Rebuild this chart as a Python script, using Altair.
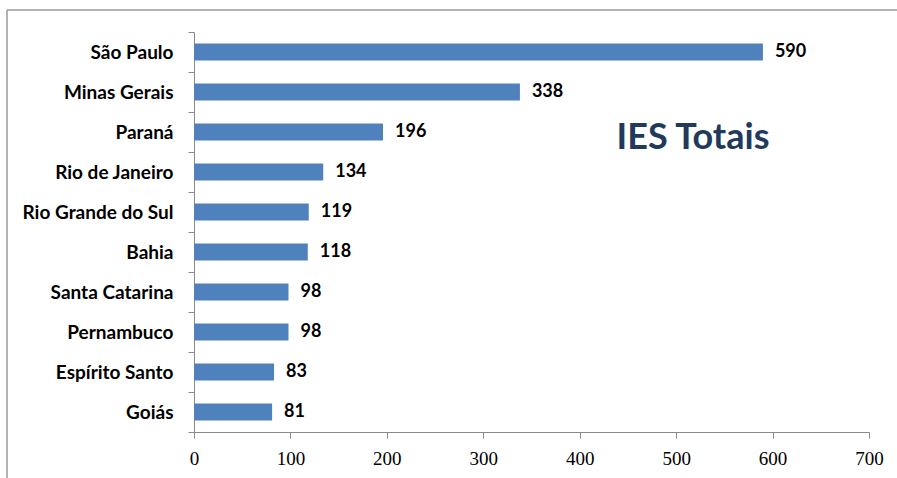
import altair as alt
import pandas as pd

states = ["São Paulo", "Minas Gerais", "Paraná", "Rio de Janeiro", "Rio Grande do Sul",
          "Bahia", "Santa Catarina", "Pernambuco", "Espírito Santo", "Goiás"]
values = [590, 338, 196, 134, 119, 118, 98, 98, 83, 81]
x_ticks = [0, 100, 200, 300, 400, 500, 600, 700]

df = pd.DataFrame({"estado": states, "ies": values})

AXIS_GRAY = "#8a8a8a"
FRAME_GRAY = "#9a9a9a"

y_enc = alt.Y("estado:N", sort=states,
              scale=alt.Scale(paddingInner=0, paddingOuter=0),
              axis=alt.Axis(title=None, tickBand="extent", domainColor=AXIS_GRAY,
                            tickColor=AXIS_GRAY, tickSize=6, labelPadding=15,
                            labelFont="Lato", labelFontWeight="bold", labelFontSize=19,
                            labelColor="#000000", grid=False))
x_enc = alt.X("ies:Q",
              scale=alt.Scale(domain=[0, 700], nice=False, zero=True),
              axis=alt.Axis(title=None, values=x_ticks, domainColor=AXIS_GRAY,
                            tickColor=AXIS_GRAY, tickSize=6, labelPadding=11,
                            labelFont="Liberation Serif", labelFontSize=19,
                            labelColor="#000000", grid=False, labelFlush=False))

bars = alt.Chart(df).mark_bar(color="#4f81bd", size=17).encode(x=x_enc, y=y_enc)

labels = alt.Chart(df).mark_text(align="left", baseline="middle", dx=12,
                                 font="Lato", fontWeight="bold", fontSize=18,
                                 color="#000000").encode(
    x="ies:Q", y=alt.Y("estado:N", sort=states), text="ies:Q")

title = alt.Chart(alt.Data(values=[{"t": "IES Totais"}])).mark_text(
    align="center", baseline="middle", font="Lato", fontWeight="bold",
    fontSize=36, color="#1f3a5c").encode(
    x=alt.value(499), y=alt.value(106), text="t:N")

one = alt.Data(values=[{"a": 1}])
frame_top = alt.Chart(one).mark_rule(color=FRAME_GRAY, strokeWidth=1.5).encode(
    x=alt.value(-187), x2=alt.value(703), y=alt.value(-22))
frame_left = alt.Chart(one).mark_rule(color=FRAME_GRAY, strokeWidth=1.5).encode(
    x=alt.value(-187), y=alt.value(-22), y2=alt.value(446))

chart = alt.layer(frame_top, frame_left, bars, labels, title).properties(
    width=675, height=400,
    autosize=alt.AutoSizeParams(type="none"),
    padding={"left": 194, "top": 32, "right": 28, "bottom": 46},
    background="white",
).configure_view(stroke=None)

chart.save("out.html", embed_options={"renderer": "svg", "actions": False})
